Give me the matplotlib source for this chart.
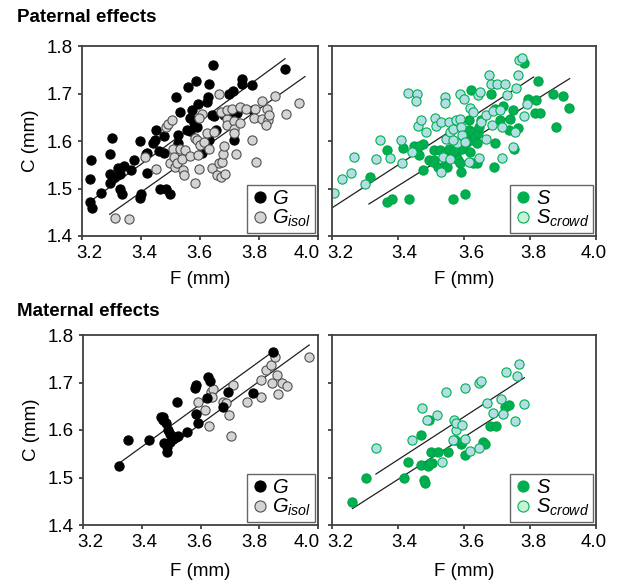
import matplotlib
matplotlib.use("Agg")
import matplotlib.pyplot as plt
from matplotlib.lines import Line2D
import numpy as np

plt.rcParams['font.family'] = ['Liberation Sans', 'DejaVu Sans']
plt.rcParams['mathtext.fontset'] = 'custom'
plt.rcParams['mathtext.it'] = 'Liberation Sans:italic'
plt.rcParams['mathtext.rm'] = 'Liberation Sans'

# ---- Paternal effects, left: G vs G_isol ----
pat_g_x = [3.230, 3.226, 3.228, 3.234, 3.264, 3.296, 3.302, 3.296, 3.296, 3.309,
           3.321, 3.330, 3.330, 3.335, 3.341, 3.366, 3.377, 3.398, 3.398, 3.401,
           3.418, 3.422, 3.422, 3.440, 3.452, 3.448, 3.460, 3.465, 3.477, 3.486,
           3.497, 3.479, 3.519, 3.524, 3.527, 3.533, 3.527, 3.559, 3.556, 3.567,
           3.567, 3.572, 3.587, 3.592, 3.578, 3.589, 3.606, 3.623, 3.629, 3.627,
           3.629, 3.644, 3.640, 3.649, 3.655, 3.683, 3.697, 3.711, 3.716, 3.714,
           3.725, 3.742, 3.742, 3.776, 3.781, 3.888]
pat_g_y = [1.560, 1.521, 1.472, 1.458, 1.490, 1.572, 1.607, 1.530, 1.511, 1.525,
           1.544, 1.530, 1.500, 1.488, 1.547, 1.539, 1.561, 1.600, 1.479, 1.488,
           1.572, 1.532, 1.574, 1.596, 1.623, 1.603, 1.579, 1.498, 1.574, 1.498,
           1.488, 1.610, 1.693, 1.612, 1.595, 1.661, 1.560, 1.714, 1.624, 1.621,
           1.649, 1.665, 1.726, 1.677, 1.637, 1.630, 1.574, 1.682, 1.721, 1.693,
           1.603, 1.759, 1.654, 1.652, 1.624, 1.654, 1.698, 1.705, 1.661, 1.602,
           1.659, 1.731, 1.721, 1.717, 1.665, 1.752]
pat_gi_x = [3.313, 3.358, 3.414, 3.452, 3.486, 3.491, 3.505, 3.499, 3.510, 3.513,
            3.516, 3.522, 3.533, 3.539, 3.542, 3.546, 3.550, 3.567, 3.584, 3.584,
            3.589, 3.592, 3.595, 3.601, 3.606, 3.595, 3.614, 3.623, 3.632, 3.640,
            3.648, 3.657, 3.663, 3.666, 3.671, 3.676, 3.677, 3.680, 3.685, 3.672,
            3.691, 3.691, 3.691, 3.708, 3.714, 3.714, 3.716, 3.721, 3.734, 3.736,
            3.756, 3.776, 3.790, 3.787, 3.784, 3.809, 3.809, 3.826, 3.829, 3.835,
            3.824, 3.855, 3.892, 3.934]
pat_gi_y = [1.437, 1.436, 1.567, 1.542, 1.630, 1.635, 1.645, 1.553, 1.584, 1.567,
            1.546, 1.553, 1.584, 1.563, 1.539, 1.528, 1.582, 1.568, 1.512, 1.607,
            1.602, 1.570, 1.542, 1.591, 1.656, 1.649, 1.598, 1.616, 1.584, 1.544,
            1.619, 1.528, 1.700, 1.553, 1.525, 1.556, 1.572, 1.590, 1.530, 1.661,
            1.647, 1.633, 1.665, 1.668, 1.642, 1.626, 1.616, 1.572, 1.672, 1.637,
            1.668, 1.602, 1.556, 1.667, 1.649, 1.684, 1.647, 1.667, 1.645, 1.654,
            1.633, 1.695, 1.656, 1.680]

# ---- Paternal effects, right: S vs S_crowd ----
pat_s_x = [3.315, 3.366, 3.368, 3.383, 3.416, 3.432, 3.449, 3.465, 3.475, 3.475,
           3.495, 3.505, 3.508, 3.510, 3.521, 3.526, 3.541, 3.543, 3.549, 3.556,
           3.566, 3.577, 3.582, 3.587, 3.592, 3.595, 3.602, 3.607, 3.612, 3.614,
           3.614, 3.617, 3.620, 3.622, 3.627, 3.633, 3.638, 3.641, 3.645, 3.638,
           3.653, 3.683, 3.694, 3.694, 3.692, 3.709, 3.719, 3.736, 3.739, 3.747,
           3.750, 3.763, 3.783, 3.795, 3.814, 3.831, 3.818, 3.823, 3.869, 3.899,
           3.880, 3.918, 3.571, 3.627, 3.463]
pat_s_y = [1.525, 1.582, 1.472, 1.477, 1.586, 1.477, 1.589, 1.570, 1.593, 1.540,
           1.560, 1.556, 1.582, 1.561, 1.546, 1.581, 1.549, 1.574, 1.546, 1.584,
           1.477, 1.570, 1.560, 1.553, 1.535, 1.584, 1.488, 1.595, 1.605, 1.623,
           1.644, 1.577, 1.708, 1.602, 1.619, 1.609, 1.595, 1.616, 1.630, 1.554,
           1.644, 1.700, 1.668, 1.595, 1.546, 1.644, 1.673, 1.623, 1.647, 1.666,
           1.584, 1.628, 1.764, 1.689, 1.658, 1.658, 1.687, 1.726, 1.698, 1.695,
           1.630, 1.670, 1.579, 1.553, 1.589]
pat_sc_x = [3.207, 3.231, 3.258, 3.268, 3.299, 3.332, 3.346, 3.376, 3.411, 3.409,
            3.431, 3.458, 3.455, 3.441, 3.462, 3.470, 3.485, 3.512, 3.516, 3.531,
            3.531, 3.536, 3.541, 3.543, 3.546, 3.556, 3.559, 3.559, 3.566, 3.577,
            3.580, 3.587, 3.587, 3.592, 3.595, 3.600, 3.602, 3.614, 3.617, 3.627,
            3.643, 3.645, 3.648, 3.653, 3.668, 3.668, 3.675, 3.683, 3.685, 3.689,
            3.699, 3.709, 3.714, 3.714, 3.724, 3.729, 3.755, 3.747, 3.757, 3.763,
            3.781, 3.790, 3.767, 3.777, 3.566]
pat_sc_y = [1.490, 1.519, 1.532, 1.567, 1.509, 1.563, 1.602, 1.565, 1.553, 1.602,
            1.702, 1.700, 1.684, 1.577, 1.631, 1.644, 1.619, 1.649, 1.631, 1.640,
            1.534, 1.567, 1.693, 1.680, 1.605, 1.640, 1.619, 1.563, 1.626, 1.644,
            1.595, 1.700, 1.647, 1.630, 1.612, 1.689, 1.598, 1.556, 1.670, 1.661,
            1.696, 1.565, 1.703, 1.640, 1.605, 1.654, 1.740, 1.721, 1.633, 1.663,
            1.721, 1.665, 1.630, 1.565, 1.721, 1.696, 1.619, 1.588, 1.712, 1.740,
            1.652, 1.677, 1.770, 1.775, 1.603]

# ---- Maternal effects, left: G vs G_isol ----
mat_g_x = [3.323, 3.354, 3.425, 3.467, 3.473, 3.484, 3.475, 3.490, 3.487, 3.487,
           3.496, 3.505, 3.516, 3.524, 3.521, 3.553, 3.581, 3.585, 3.585, 3.592,
           3.621, 3.624, 3.632, 3.678, 3.695, 3.780, 3.848, 3.496, 3.473]
mat_g_y = [1.525, 1.579, 1.580, 1.628, 1.621, 1.614, 1.573, 1.600, 1.554, 1.565,
           1.592, 1.582, 1.585, 1.587, 1.658, 1.596, 1.688, 1.695, 1.634, 1.614,
           1.667, 1.711, 1.704, 1.648, 1.679, 1.677, 1.764, 1.575, 1.628]
mat_gi_x = [3.592, 3.615, 3.635, 3.644, 3.638, 3.678, 3.698, 3.703, 3.710, 3.757,
            3.630, 3.805, 3.806, 3.822, 3.839, 3.845, 3.855, 3.862, 3.863, 3.877,
            3.894, 3.969, 3.687]
mat_gi_y = [1.660, 1.642, 1.679, 1.686, 1.670, 1.660, 1.632, 1.587, 1.695, 1.660,
            1.608, 1.705, 1.670, 1.726, 1.737, 1.700, 1.753, 1.716, 1.676, 1.700,
            1.693, 1.753, 1.656]

# ---- Maternal effects, right: S vs S_crowd ----
mat_s_x = [3.260, 3.304, 3.419, 3.429, 3.470, 3.470, 3.480, 3.482, 3.490, 3.494,
           3.500, 3.504, 3.520, 3.552, 3.572, 3.590, 3.594, 3.602, 3.658, 3.663,
           3.680, 3.697, 3.725, 3.735, 3.497]
mat_s_y = [1.449, 1.500, 1.498, 1.533, 1.526, 1.589, 1.495, 1.489, 1.524, 1.621,
           1.554, 1.531, 1.554, 1.554, 1.580, 1.571, 1.575, 1.547, 1.575, 1.570,
           1.608, 1.608, 1.648, 1.653, 1.530]
mat_sc_x = [3.334, 3.443, 3.472, 3.487, 3.517, 3.532, 3.544, 3.567, 3.570, 3.575,
            3.577, 3.594, 3.602, 3.604, 3.617, 3.645, 3.650, 3.645, 3.671, 3.688,
            3.711, 3.718, 3.726, 3.755, 3.761, 3.768, 3.783]
mat_sc_y = [1.563, 1.579, 1.646, 1.621, 1.632, 1.533, 1.681, 1.580, 1.621, 1.601,
            1.614, 1.611, 1.689, 1.582, 1.556, 1.698, 1.704, 1.563, 1.656, 1.636,
            1.665, 1.633, 1.722, 1.620, 1.713, 1.740, 1.654]

# regression lines: (slope, intercept, x start, x end)
fit_pat_g = (0.455, 0.004, 3.226, 3.888)
fit_pat_gi = (0.438, 0.003, 3.294, 3.956)
fit_pat_s = (0.434, 0.030, 3.312, 3.920)
fit_pat_sc = (0.451, 0.016, 3.200, 3.811)
fit_mat_g = (0.449, 0.038, 3.323, 3.837)
fit_mat_gi = (0.450, -0.0075, 3.490, 3.970)
fit_mat_s = (0.445, -0.017, 3.262, 3.741)
fit_mat_sc = (0.451, 0.004, 3.333, 3.783)

x_ticks = [3.2, 3.4, 3.6, 3.8, 4.0]
x_tick_labels = ['3.2', '3.4', '3.6', '3.8', '4.0']
y_ticks = [1.4, 1.5, 1.6, 1.7, 1.8]
y_tick_labels = ['1.4', '1.5', '1.6', '1.7', '1.8']

BLACK = '#000000'
GRAY_FC = '#d4d4d4'
GRAY_EC = '#505050'
GREEN = '#00b050'
GREEN_EC = '#00a346'
CROWD_FC = '#b5dde6'
CROWD_LEG = '#c6f2d8'

W, H = 617, 585
fig = plt.figure(figsize=(W / 100, H / 100), dpi=100)


def add_ax(l, r, t, b):
    return fig.add_axes([l / W, 1 - b / H, (r - l) / W, (b - t) / H])


def style(ax, shifts, ylabel=True, xlab_y=-0.165):
    ax.set_xlim(3.2, 4.0)
    ax.set_ylim(1.4, 1.8)
    ax.set_xticks(x_ticks)
    ax.set_yticks(y_ticks)
    ax.set_xticklabels([])
    # tick labels squeezed a little toward the centre, as in the original
    for v, lbl, dx in zip(x_ticks, x_tick_labels, shifts):
        ax.annotate(lbl, xy=(v, 0), xycoords=('data', 'axes fraction'),
                    xytext=(dx * 0.72, -6.5), textcoords='offset points',
                    ha='center', va='top', fontsize=13.5, annotation_clip=False)
    if ylabel:
        ax.set_yticklabels(y_tick_labels)
        ax.set_ylabel('C (mm)', fontsize=13.5, labelpad=6)
    else:
        ax.set_yticklabels([])
    ax.set_xlabel('F (mm)', fontsize=13.5)
    ax.xaxis.set_label_coords(0.5, xlab_y)
    ax.tick_params(direction='out', length=3, width=1.2, labelsize=13.5,
                   color='#303030', top=False, right=False)
    for sp in ax.spines.values():
        sp.set_color('#404040')
        sp.set_linewidth(1.3)


def fit_line(ax, fit):
    slope, icpt, x0, x1 = fit
    xs = np.array([x0, x1])
    ax.plot(xs, icpt + slope * xs, color='#202020', lw=0.9, zorder=1)


def legend(ax, names, styles):
    handles = [Line2D([], [], ls='none', marker='o', markersize=8,
                      markerfacecolor=fc, markeredgecolor=ec, markeredgewidth=0.8)
               for fc, ec in styles]
    leg = ax.legend(handles, names, loc='lower right', fontsize=14.5,
                    frameon=True, fancybox=False, borderpad=0.2,
                    handletextpad=0.15, handlelength=0.9, labelspacing=0.0,
                    borderaxespad=0.15)
    leg.get_frame().set_edgecolor('#404040')
    leg.get_frame().set_linewidth(1.0)


def scatter(ax, xs, ys, fc, ec):
    ax.scatter(xs, ys, s=44, facecolor=fc, edgecolor=ec, linewidths=0.8, zorder=2)


g_styles = [(BLACK, BLACK), (GRAY_FC, GRAY_EC)]
s_styles = [(GREEN, GREEN), (CROWD_LEG, GREEN)]
g_names = ['$G$', '$G_{isol}$']
s_names = ['$S$', '$S_{crowd}$']
left_shift = [7.7, 3, -1, -5, -11]
right_shift = [8, 6.7, 7, 3, -2.7]

# paternal left
ax1 = add_ax(82, 318, 46, 236)
scatter(ax1, pat_g_x, pat_g_y, BLACK, BLACK)
scatter(ax1, pat_gi_x, pat_gi_y, GRAY_FC, GRAY_EC)
fit_line(ax1, fit_pat_g)
fit_line(ax1, fit_pat_gi)
style(ax1, left_shift, xlab_y=-0.185)
legend(ax1, g_names, g_styles)

# paternal right
ax2 = add_ax(332, 596, 46, 236)
scatter(ax2, pat_s_x, pat_s_y, GREEN, GREEN_EC)
scatter(ax2, pat_sc_x, pat_sc_y, CROWD_FC, GREEN)
fit_line(ax2, fit_pat_s)
fit_line(ax2, fit_pat_sc)
style(ax2, right_shift, ylabel=False, xlab_y=-0.185)
legend(ax2, s_names, s_styles)

# maternal left
ax3 = add_ax(83, 318, 335, 525)
scatter(ax3, mat_gi_x, mat_gi_y, GRAY_FC, GRAY_EC)
scatter(ax3, mat_g_x, mat_g_y, BLACK, BLACK)
fit_line(ax3, fit_mat_g)
fit_line(ax3, fit_mat_gi)
style(ax3, left_shift, xlab_y=-0.2)
legend(ax3, g_names, g_styles)

# maternal right
ax4 = add_ax(332, 596, 335, 525)
scatter(ax4, mat_s_x, mat_s_y, GREEN, GREEN_EC)
scatter(ax4, mat_sc_x, mat_sc_y, CROWD_FC, GREEN)
fit_line(ax4, fit_mat_s)
fit_line(ax4, fit_mat_sc)
style(ax4, right_shift, ylabel=False, xlab_y=-0.2)
legend(ax4, s_names, s_styles)

fig.text(17 / W, 1 - 22 / H, 'Paternal effects', fontsize=13.5, fontweight='bold')
fig.text(17 / W, 1 - 316 / H, 'Maternal effects', fontsize=13.5, fontweight='bold')

fig.savefig('out.png', dpi=100)
